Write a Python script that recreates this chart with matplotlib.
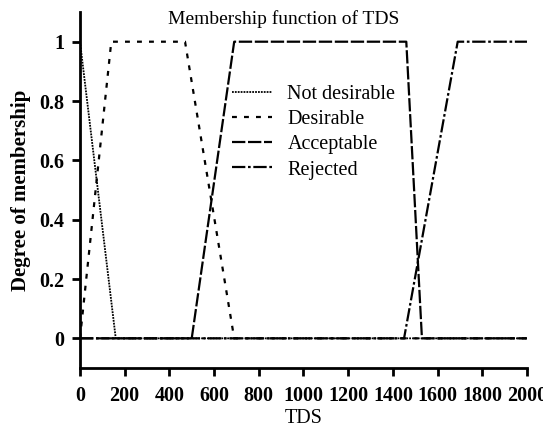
import matplotlib
matplotlib.use("Agg")
import matplotlib.pyplot as plt

plt.rcParams['font.family'] = ['Liberation Serif', 'DejaVu Serif']

# Data
nd_x = [0, 160, 2000]
nd_y = [1, 0, 0]
des_x = [0, 140, 470, 690, 2000]
des_y = [0, 1, 1, 0, 0]
acc_x = [0, 500, 690, 1460, 1530, 2000]
acc_y = [0, 0, 1, 1, 0, 0]
rej_x = [0, 1450, 1690, 2000]
rej_y = [0, 0, 1, 1]

xticks = [0, 200, 400, 600, 800, 1000, 1200, 1400, 1600, 1800, 2000]
yticks = [0, 0.2, 0.4, 0.6, 0.8, 1]
ytick_labels = ['0', '0.2', '0.4', '0.6', '0.8', '1']

fig = plt.figure(figsize=(5.43, 4.30), dpi=100)
ax = fig.add_axes([0.1473, 0.1442, 0.8232, 0.8278])

lw = 1.6
ax.plot(nd_x, nd_y, color='black', lw=1.3, linestyle=(0, (1, 0.6)), label='Not desirable')
ax.plot(des_x, des_y, color='black', lw=lw, linestyle=(0, (2.2, 3.2)), label='Desirable')
ax.plot(acc_x, acc_y, color='black', lw=lw, linestyle=(0, (6, 1.2)), label='Acceptable')
ax.plot(rej_x, rej_y, color='black', lw=lw, linestyle=(0, (6, 1.2, 1.2, 1.2)), label='Rejected')

ax.set_xlim(0, 2000)
ax.set_ylim(-0.1, 1.1)
ax.set_xticks(xticks)
ax.set_xticklabels([str(t) for t in xticks])
ax.set_yticks(yticks)
ax.set_yticklabels(ytick_labels)

for s in ['top', 'right']:
    ax.spines[s].set_visible(False)
for s in ['left', 'bottom']:
    ax.spines[s].set_linewidth(2)
ax.tick_params(direction='out', length=6, width=2, labelsize=14.5)
ax.tick_params(axis='x', pad=7)
ax.tick_params(axis='y', pad=5)
for lab in ax.get_xticklabels() + ax.get_yticklabels():
    lab.set_fontweight('bold')

ax.set_xlabel('TDS', fontsize=14.5, labelpad=2)
ax.set_ylabel('Degree of membership', fontsize=15, fontweight='bold', labelpad=6)

ax.text(913, 1.077, 'Membership function of TDS', fontsize=14, ha='center', va='center')

ax.legend(loc='upper left', bbox_to_anchor=(0.34, 0.795), frameon=False,
          fontsize=14.5, handlelength=2.0, handletextpad=0.75, labelspacing=0.30,
          borderpad=0, borderaxespad=0)

fig.savefig('out.png', dpi=100)
